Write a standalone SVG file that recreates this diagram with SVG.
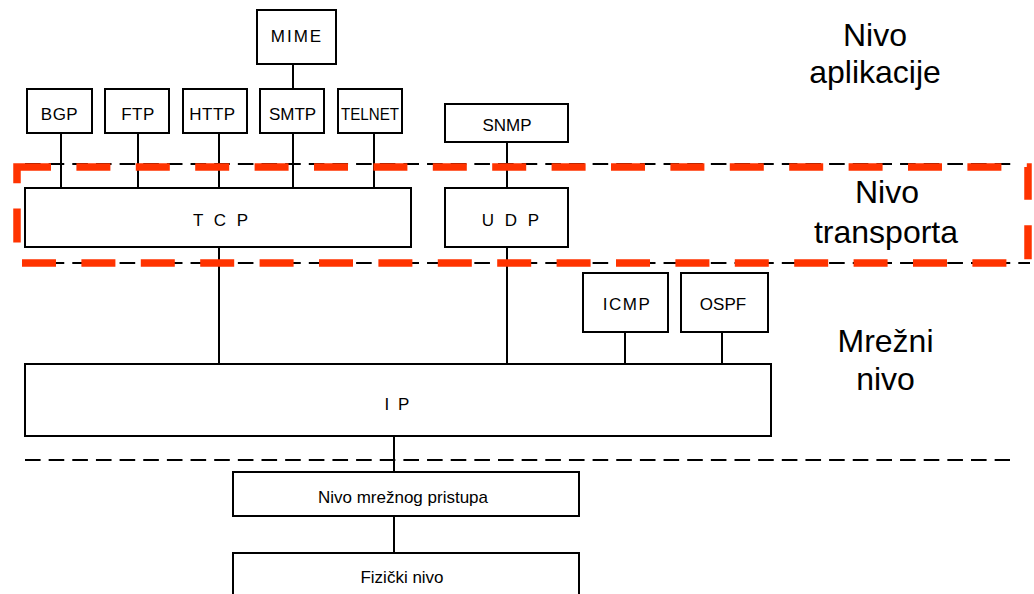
<svg xmlns="http://www.w3.org/2000/svg" width="1034" height="594" viewBox="0 0 1034 594">
<style>
.box{fill:#fff;stroke:#000;stroke-width:2}
.lbl{font-family:"Liberation Sans",Arial,sans-serif;font-size:17px;fill:#000;text-anchor:middle}
.big{font-family:"Liberation Sans",Arial,sans-serif;font-size:32px;fill:#000;text-anchor:middle}
.conn line{stroke:#000;stroke-width:2}
.sep{stroke:#000;stroke-width:2;stroke-dasharray:15.6 8.05;fill:none}
</style>
<rect width="1034" height="594" fill="#fff"/>
<g id="separators">
<line class="sep" x1="25" y1="164" x2="1012" y2="164"/>
<line class="sep" x1="25" y1="263" x2="1030" y2="263"/>
<line class="sep" x1="25" y1="460" x2="1010" y2="460"/>
</g>
<g id="connectors" class="conn">
<line x1="293" y1="64" x2="293" y2="89"/>
<line x1="61" y1="133" x2="61" y2="188"/>
<line x1="138" y1="133" x2="138" y2="188"/>
<line x1="219" y1="133" x2="219" y2="188"/>
<line x1="293" y1="133" x2="293" y2="188"/>
<line x1="374" y1="133" x2="374" y2="188"/>
<line x1="507" y1="142" x2="507" y2="188"/>
<line x1="219" y1="247" x2="219" y2="364"/>
<line x1="507" y1="247" x2="507" y2="364"/>
<line x1="625" y1="332" x2="625" y2="364"/>
<line x1="722" y1="332" x2="722" y2="364"/>
<line x1="394" y1="436" x2="394" y2="472"/>
<line x1="394" y1="516" x2="394" y2="553"/>
</g>
<g id="mime"><rect class="box" x="257" y="10" width="79" height="54"/><text class="lbl" x="297" y="42" letter-spacing="2">MIME</text></g>
<g id="bgp"><rect class="box" x="27" y="89" width="65" height="44"/><text class="lbl" x="59.5" y="120" letter-spacing="0.5">BGP</text></g>
<g id="ftp"><rect class="box" x="105" y="89" width="64" height="44"/><text class="lbl" x="138" y="120" letter-spacing="0.5">FTP</text></g>
<g id="http"><rect class="box" x="183" y="89" width="64" height="44"/><text class="lbl" x="212.5" y="120" letter-spacing="0.5">HTTP</text></g>
<g id="smtp"><rect class="box" x="260" y="89" width="64" height="44"/><text class="lbl" x="292.5" y="120">SMTP</text></g>
<g id="telnet"><rect class="box" x="338" y="89" width="64" height="44"/><text class="lbl" x="370" y="120" textLength="58" lengthAdjust="spacingAndGlyphs">TELNET</text></g>
<g id="snmp"><rect class="box" x="445" y="104" width="123" height="38"/><text class="lbl" x="507" y="131">SNMP</text></g>
<g id="tcp"><rect class="box" x="25" y="188" width="386" height="59"/><text class="lbl" x="222" y="226" font-size="16" letter-spacing="3">T C P</text></g>
<g id="udp"><rect class="box" x="445" y="188" width="123" height="59"/><text class="lbl" x="512" y="226" font-size="16" letter-spacing="3">U D P</text></g>
<g id="icmp"><rect class="box" x="583" y="273" width="85" height="59"/><text class="lbl" x="627" y="310" font-size="16" letter-spacing="1.5">ICMP</text></g>
<g id="ospf"><rect class="box" x="681" y="273" width="87" height="59"/><text class="lbl" x="723" y="310" font-size="16">OSPF</text></g>
<g id="ip"><rect class="box" x="25" y="364" width="746" height="72"/><text class="lbl" x="398" y="410" font-size="16" letter-spacing="2">I P</text></g>
<g id="pristup"><rect class="box" x="233" y="472" width="346" height="44"/><text class="lbl" x="403" y="503" font-size="16.5">Nivo mrežnog pristupa</text></g>
<g id="fizicki"><rect class="box" x="233" y="553" width="346" height="50"/><text class="lbl" x="402" y="583">Fizički nivo</text></g>
<g id="layer-labels">
<text class="big" x="875" y="46">Nivo</text>
<text class="big" x="875" y="83">aplikacije</text>
<text class="big" x="887" y="203">Nivo</text>
<text class="big" x="886" y="243">transporta</text>
<text class="big" x="885.5" y="352">Mrežni</text>
<text class="big" x="885.5" y="390">nivo</text>
</g>
<g id="transport-highlight">
<rect x="17" y="167" width="1011" height="96" fill="none" stroke="#ff3300" stroke-width="7.5" stroke-dasharray="34 25.4"/>
</g>
</svg>
